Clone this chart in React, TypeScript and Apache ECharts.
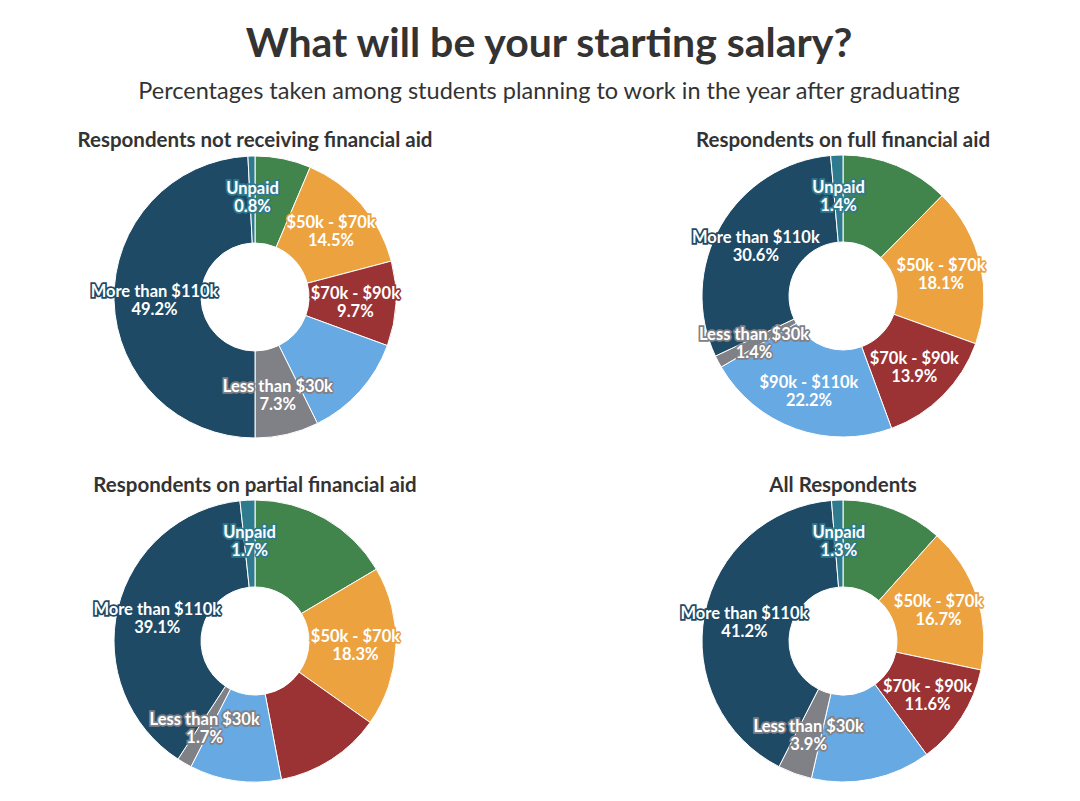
import React, { useEffect, useRef } from "react";
import * as echarts from "echarts";

const categories = ["$30k - $50k", "$50k - $70k", "$70k - $90k", "$90k - $110k", "Less than $30k", "More than $110k", "Unpaid"];
const colors = ["#41844C", "#EBA23F", "#9B3335", "#67A9E2", "#808186", "#1E4A66", "#2E7A8E"];

const noAid = [6.4, 14.5, 9.7, 12.1, 7.3, 49.2, 0.8];
const fullAid = [12.4, 18.1, 13.9, 22.2, 1.4, 30.6, 1.4];
const partialAid = [16.5, 18.3, 12.2, 10.5, 1.7, 39.1, 1.7];
const allResp = [11.6, 16.7, 11.6, 13.7, 3.9, 41.2, 1.3];

const noAidLabels = [false, true, true, false, true, true, true];
const fullAidLabels = [false, true, true, true, true, true, true];
const partialAidLabels = [false, true, false, false, true, true, true];
const allRespLabels = [false, true, true, false, true, true, true];

const chartTitles = [
  "Respondents not receiving financial aid",
  "Respondents on full financial aid",
  "Respondents on partial financial aid",
  "All Respondents",
];
const mainTitle = "What will be your starting salary?";
const subTitle = "Percentages taken among students planning to work in the year after graduating";

const FONT = "Lato, 'Noto Sans', sans-serif";
const TEXT = "#333333";

const positions = [
  { cx: 255, cy: 297, ty: 139 },
  { cx: 843, cy: 296, ty: 139 },
  { cx: 255, cy: 641, ty: 484 },
  { cx: 843, cy: 641, ty: 484 },
];

function makeSeries(values: number[], shows: boolean[], idx: number) {
  const p = positions[idx];
  return {
    type: "pie",
    name: chartTitles[idx],
    center: [p.cx, p.cy],
    radius: [54, 141],
    startAngle: 90,
    clockwise: true,
    avoidLabelOverlap: false,
    minShowLabelAngle: 0,
    itemStyle: { borderColor: "#ffffff", borderWidth: 1 },
    label: {
      position: "inside",
      formatter: (d: any) => `${d.name}\n${Number(d.value).toFixed(1)}%`,
      color: "#ffffff",
      fontFamily: FONT,
      fontWeight: "bold",
      fontSize: 16.5,
      lineHeight: 18,
    },
    labelLayout: { hideOverlap: false },
    labelLine: { show: false },
    emphasis: { disabled: true },
    data: categories.map((c, i) => ({
      name: c,
      value: values[i],
      itemStyle: { color: colors[i] },
      label: {
        show: shows[i],
        textBorderColor: colors[i],
        textBorderWidth: 3.5,
      },
    })),
  };
}

export default function App() {
  const ref = useRef<HTMLDivElement>(null);
  useEffect(() => {
    if (!ref.current) return;
    const chart = echarts.init(ref.current, null, { renderer: "svg" });
    const graphics: any[] = [
      {
        type: "text",
        x: 549,
        y: 41,
        style: {
          text: mainTitle,
          fill: TEXT,
          font: `bold 41px ${FONT}`,
          textAlign: "center",
          textVerticalAlign: "middle",
        },
      },
      {
        type: "text",
        x: 549,
        y: 90,
        style: {
          text: subTitle,
          fill: TEXT,
          font: `23.5px ${FONT}`,
          textAlign: "center",
          textVerticalAlign: "middle",
        },
      },
      ...chartTitles.map((t, i) => ({
        type: "text",
        x: positions[i].cx,
        y: positions[i].ty,
        style: {
          text: t,
          fill: TEXT,
          font: `bold 20.5px ${FONT}`,
          textAlign: "center",
          textVerticalAlign: "middle",
        },
      })),
    ];
    chart.setOption({
      animation: false,
      backgroundColor: "#ffffff",
      graphic: graphics,
      series: [
        makeSeries(noAid, noAidLabels, 0),
        makeSeries(fullAid, fullAidLabels, 1),
        makeSeries(partialAid, partialAidLabels, 2),
        makeSeries(allResp, allRespLabels, 3),
      ],
    });
    return () => chart.dispose();
  }, []);
  return (
    <div
      ref={ref}
      style={{ position: "absolute", left: 0, top: 0, width: 1080, height: 801 }}
    />
  );
}
